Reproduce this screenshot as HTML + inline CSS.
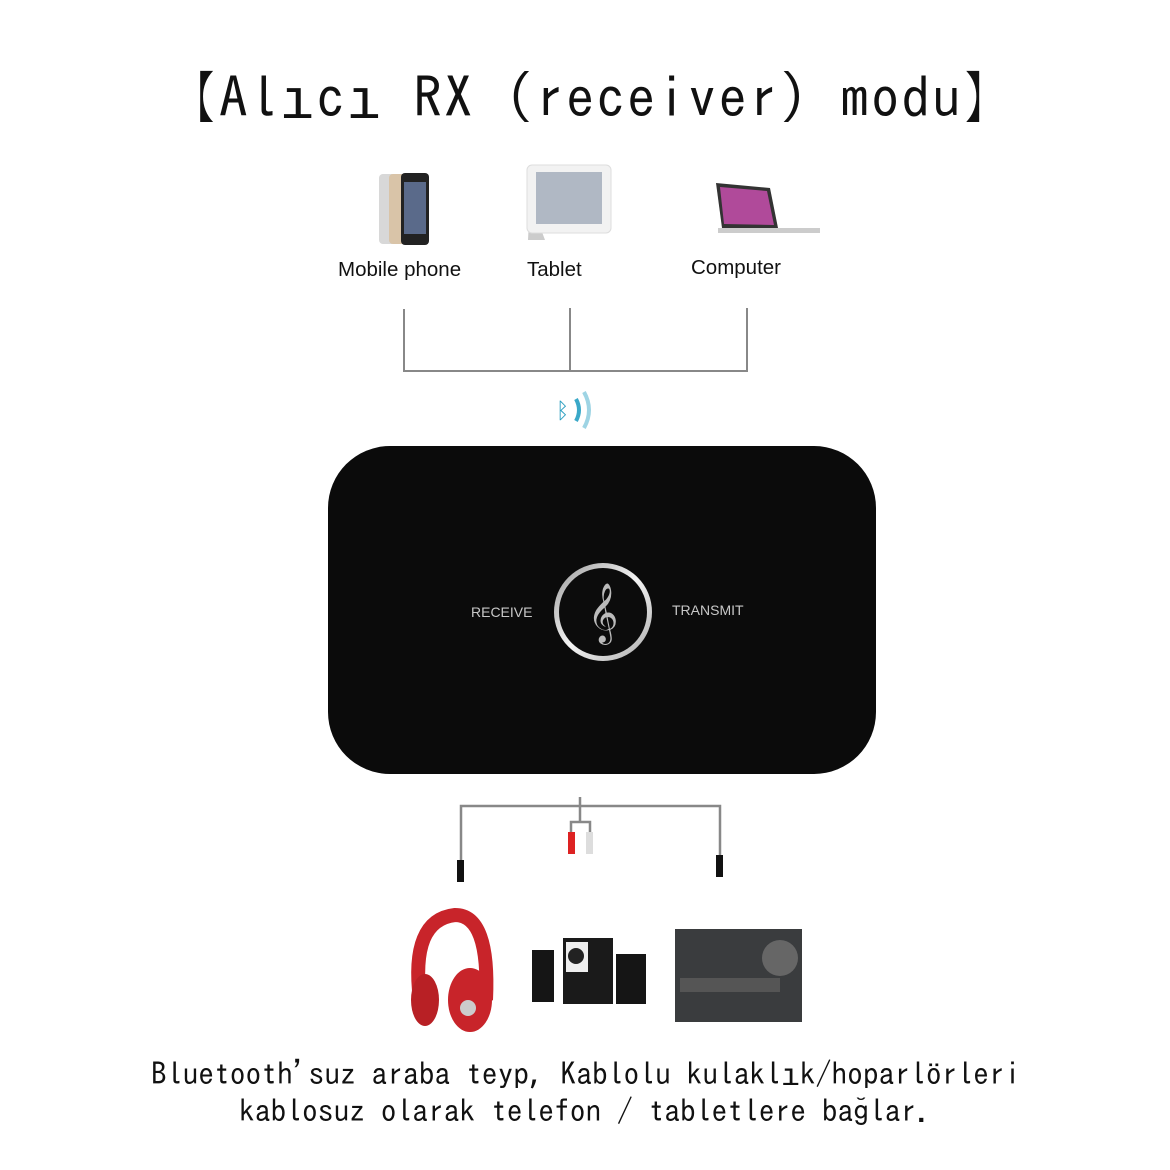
<!DOCTYPE html>
<html><head><meta charset="utf-8"><style>
html,body{margin:0;padding:0;background:#fff;}
#c{position:relative;width:1170px;height:1170px;overflow:hidden;background:#fff;font-family:"Liberation Sans",sans-serif;}
.t{position:absolute;white-space:pre;}
.mono{font-family:"IPAGothic","Liberation Mono",monospace;color:#111;}
</style></head><body><div id="c">
<div class="t mono" style="left:160px;top:64px;font-size:57px;line-height:66px;letter-spacing:2px;">【Alıcı RX (receiver) modu】</div>

<svg width="1170" height="1170" style="position:absolute;left:0;top:0">
<defs><linearGradient id="ring" x1="0" y1="0" x2="1" y2="1"><stop offset="0" stop-color="#999"/><stop offset="0.5" stop-color="#f4f4f4"/><stop offset="1" stop-color="#aaa"/></linearGradient></defs>
<rect x="379" y="174" width="22" height="70" rx="4" fill="#d8d8d8"/>
<rect x="389" y="174" width="22" height="70" rx="4" fill="#d9c4a8"/>
<rect x="401" y="173" width="28" height="72" rx="4" fill="#222"/>
<rect x="404" y="182" width="22" height="52" fill="#5a6a8a"/>
<polygon points="530,200 528,240 545,240" fill="#ccc"/>
<rect x="527" y="165" width="84" height="68" rx="5" fill="#f2f2f2" stroke="#ddd"/>
<rect x="536" y="172" width="66" height="52" fill="#b0b8c4"/>
<polygon points="716,183 770,188 778,228 722,228" fill="#333"/>
<polygon points="720,187 767,191 774,225 724,224" fill="#b04a9a"/>
<rect x="718" y="228" width="102" height="5" fill="#ccc"/>
<g stroke="#888" stroke-width="2" fill="none">
<path d="M404,309 V371 H747 V308"/>
<path d="M570,308 V371"/>
</g>
<text x="556" y="418" font-size="22" fill="#2a9ec0" font-family="DejaVu Sans">ᛒ</text>
<path d="M576,399 Q582,410 576,421" stroke="#3aa8c8" stroke-width="4" fill="none"/>
<path d="M584,392 Q594,410 584,428" stroke="#9ed4e4" stroke-width="4" fill="none"/>
<rect x="328" y="446" width="548" height="328" rx="62" fill="#0b0b0b"/>
<circle cx="603" cy="612" r="49" fill="url(#ring)"/>
<circle cx="603" cy="612" r="44" fill="#0c0c0c"/>
<text x="603" y="630" font-size="52" fill="#bbb" text-anchor="middle" font-family="DejaVu Sans">𝄞</text>
<text x="471" y="617" font-size="14" fill="#c8c8c8">RECEIVE</text>
<text x="672" y="615" font-size="14" fill="#c8c8c8">TRANSMIT</text>
<g stroke="#888" stroke-width="2.5" fill="none">
<path d="M461,862 V806 H720 V862"/>
<path d="M580,797 V822 M571,833 V822 H590 V833"/>
</g>
<rect x="457" y="860" width="7" height="22" fill="#111"/>
<rect x="716" y="855" width="7" height="22" fill="#111"/>
<rect x="568" y="832" width="7" height="22" fill="#d22"/>
<rect x="586" y="832" width="7" height="22" fill="#ddd"/>
<path d="M420,1000 Q410,920 455,915 Q490,915 486,1000" stroke="#c8242a" stroke-width="14" fill="none"/>
<ellipse cx="425" cy="1000" rx="14" ry="26" fill="#b82025"/>
<ellipse cx="470" cy="1000" rx="22" ry="32" fill="#c8242a"/>
<circle cx="468" cy="1008" r="8" fill="#ccc"/>
<rect x="532" y="950" width="22" height="52" fill="#151515"/>
<rect x="563" y="938" width="50" height="66" fill="#1a1a1a"/>
<rect x="566" y="942" width="22" height="30" fill="#eee"/>
<circle cx="576" cy="956" r="8" fill="#222"/>
<rect x="616" y="954" width="30" height="50" fill="#151515"/>
<rect x="675" y="929" width="127" height="93" fill="#3a3c3e"/>
<circle cx="780" cy="958" r="18" fill="#666"/>
<rect x="680" y="978" width="100" height="14" fill="#555"/>
</svg>

<div class="t" style="left:338px;top:258px;font-size:20.5px;color:#111;">Mobile phone</div>
<div class="t" style="left:527px;top:258px;font-size:20.5px;color:#111;">Tablet</div>
<div class="t" style="left:691px;top:256px;font-size:20.5px;color:#111;">Computer</div>

<div class="t mono" style="left:151px;top:1055px;font-size:31.5px;line-height:36px;">Bluetooth'suz araba teyp, Kablolu kulaklık/hoparlörleri</div>
<div class="t mono" style="left:239px;top:1092px;font-size:31.5px;line-height:36px;">kablosuz olarak telefon / tabletlere bağlar.</div>
</div></body></html>
